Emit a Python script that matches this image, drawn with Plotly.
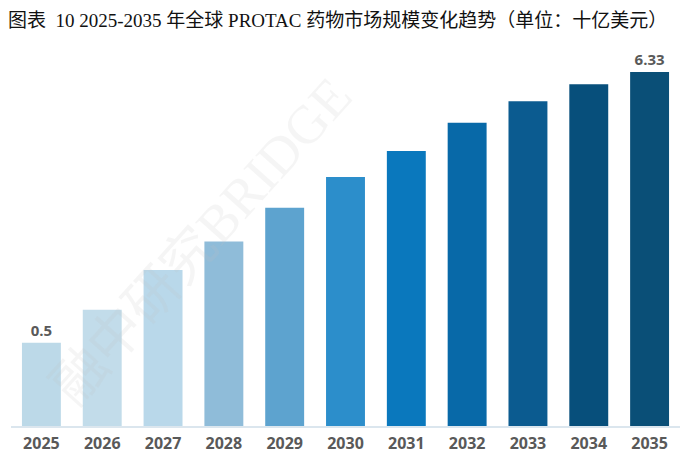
import plotly.graph_objects as go

years = ["2025", "2026", "2027", "2028", "2029", "2030", "2031", "2032", "2033", "2034", "2035"]
market_size = [0.5, 1.21, 2.07, 2.68, 3.41, 4.07, 4.63, 5.24, 5.70, 6.07, 6.33]
shown_labels = ["0.5", "", "", "", "", "", "", "", "", "", "6.33"]
bar_colors = ["#bcd9e8", "#c2dcea", "#b9d8ea", "#8fbcd9", "#5da3cf", "#2c8ecb",
              "#0a78bd", "#0869a8", "#0b5b90", "#074f7b", "#0a4f77"]

axis_floor = -1.29
axis_top = 7.02

fig = go.Figure()
fig.add_trace(go.Bar(
    x=years,
    y=[v - axis_floor for v in market_size],
    base=axis_floor,
    marker=dict(color=bar_colors, line=dict(width=0)),
    text=shown_labels,
    textposition="outside",
    cliponaxis=False,
    textfont=dict(family="Open Sans", size=15, color="#595959", weight=700),
    hoverinfo="skip",
))

fig.update_layout(
    width=686, height=461,
    margin=dict(l=3, r=14, t=32, b=43),
    paper_bgcolor="white", plot_bgcolor="white",
    bargap=0.36,
    showlegend=False,
    title=dict(
        text="图表  10 2025-2035 年全球 PROTAC 药物市场规模变化趋势（单位：十亿美元）",
        x=0.0, xanchor="left", y=0.988, yanchor="top",
        font=dict(family="Liberation Serif, Noto Sans CJK SC", size=19, color="#111111"),
    ),
    xaxis=dict(
        showgrid=False, zeroline=False, ticks="",
        showline=True, linecolor="#dbe6ee", linewidth=1.5,
        tickfont=dict(family="Open Sans", size=16, color="#595959", weight=700),
        ticklabelstandoff=2,
    ),
    yaxis=dict(
        range=[axis_floor, axis_top], visible=False, showgrid=False, zeroline=False,
    ),
)

fig.add_annotation(
    text="融中研究BRIDGE", xref="paper", yref="paper", x=0.285, y=0.48,
    xanchor="center", yanchor="middle",
    showarrow=False, textangle=-48,
    font=dict(family="Liberation Serif, Noto Sans CJK SC", size=54, color="rgba(190,190,190,0.16)"),
)

fig.write_html("out.html")
